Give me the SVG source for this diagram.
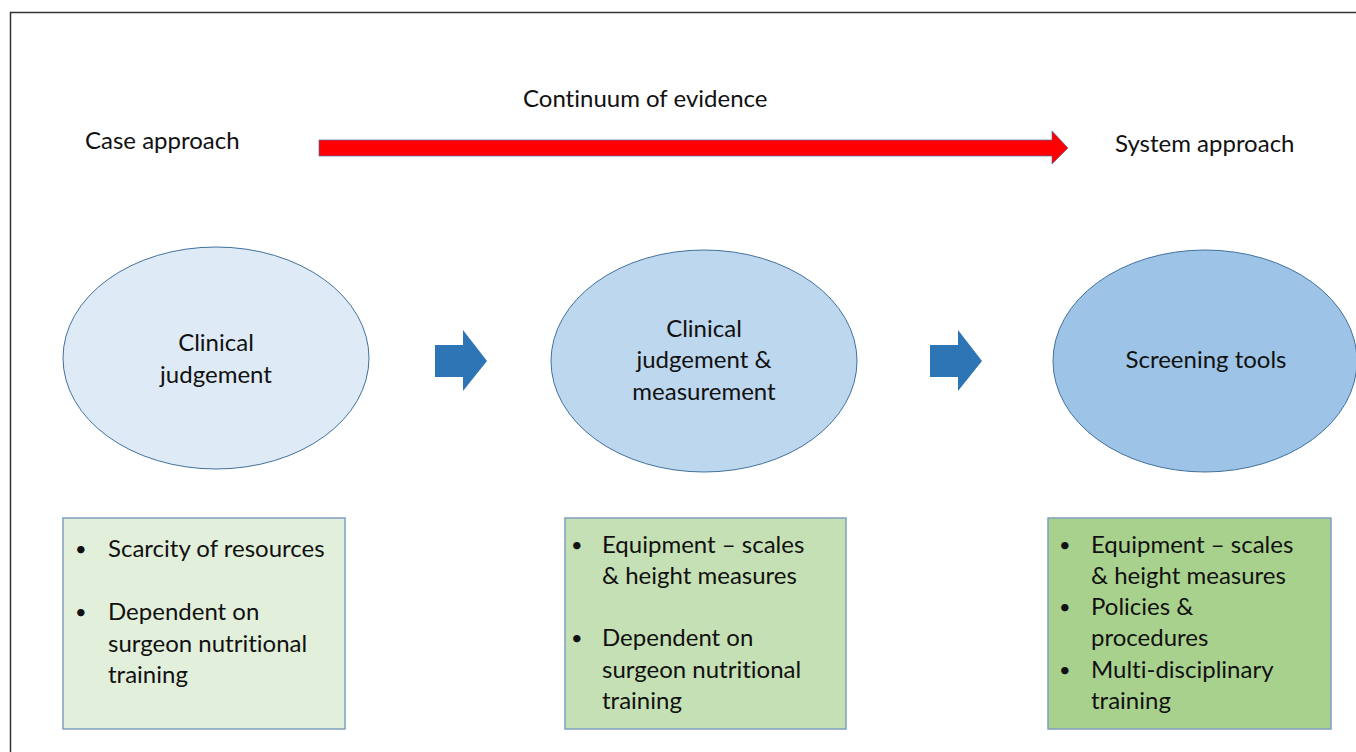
<svg xmlns="http://www.w3.org/2000/svg" width="1356" height="752" viewBox="0 0 1356 752">
<defs>
<style>
text{font-family:Lato,"Liberation Sans",sans-serif;font-size:24px;fill:#111;font-variant-ligatures:none}
.c{text-anchor:middle}
.b{font-size:20px}
.ell{stroke:#41719c;stroke-width:1}
.box{stroke:#7f9fbf;stroke-width:1.5}
.barrow{fill:#2e75b6}
</style>
</defs>
<rect width="1356" height="752" fill="#fff"/>
<path d="M10.5 752 V12.5 H1356" fill="none" stroke="#333" stroke-width="1.5"/>
<g id="labels">
<text x="85" y="149">Case approach</text>
<text x="523" y="107">Continuum of evidence</text>
<text x="1115" y="152">System approach</text>
</g>
<g id="connectors">
<path d="M319 140 H1052 V131 L1068 148 L1052 164 V156 H319 Z" fill="#ff0000" stroke="#4a6fa5" stroke-width="0.7"/>
<path class="barrow" d="M435 345 H463 V330 L487 361 L463 391 V377 H435 Z"/>
<path class="barrow" d="M930 345 H958 V330 L982 361 L958 391 V377 H930 Z"/>
</g>
<g id="node1">
<ellipse class="ell" cx="216" cy="358" rx="153" ry="111" fill="#deebf7"/>
<text class="c" x="216" y="351">Clinical</text>
<text class="c" x="216" y="383">judgement</text>
</g>
<g id="node2">
<ellipse class="ell" cx="704" cy="361" rx="153" ry="111" fill="#bdd7ee"/>
<text class="c" x="704" y="337">Clinical</text>
<text class="c" x="704" y="368">judgement &amp;</text>
<text class="c" x="704" y="400">measurement</text>
</g>
<g id="node3">
<ellipse class="ell" cx="1205" cy="361" rx="152" ry="111" fill="#9dc3e6"/>
<text class="c" x="1206" y="368">Screening tools</text>
</g>
<g id="box1">
<rect class="box" x="63" y="518" width="282" height="211" fill="#e2efda"/>
<text class="b" x="75" y="556">•</text><text x="108" y="557">Scarcity of resources</text>
<text class="b" x="75" y="619">•</text><text x="108" y="620">Dependent on</text>
<text x="108" y="652">surgeon nutritional</text>
<text x="108" y="683">training</text>
</g>
<g id="box2">
<rect class="box" x="565" y="518" width="281" height="211" fill="#c5e0b4"/>
<text class="b" x="571" y="552">•</text><text x="602" y="553">Equipment – scales</text>
<text x="602" y="584">&amp; height measures</text>
<text class="b" x="571" y="645">•</text><text x="602" y="646">Dependent on</text>
<text x="602" y="678">surgeon nutritional</text>
<text x="602" y="709">training</text>
</g>
<g id="box3">
<rect class="box" x="1048" y="518" width="283" height="211" fill="#a9d18e"/>
<text class="b" x="1059" y="552">•</text><text x="1091" y="553">Equipment – scales</text>
<text x="1091" y="584">&amp; height measures</text>
<text class="b" x="1059" y="614">•</text><text x="1091" y="615">Policies &amp;</text>
<text x="1091" y="646">procedures</text>
<text class="b" x="1059" y="677">•</text><text x="1091" y="678">Multi-disciplinary</text>
<text x="1091" y="709">training</text>
</g>
</svg>
